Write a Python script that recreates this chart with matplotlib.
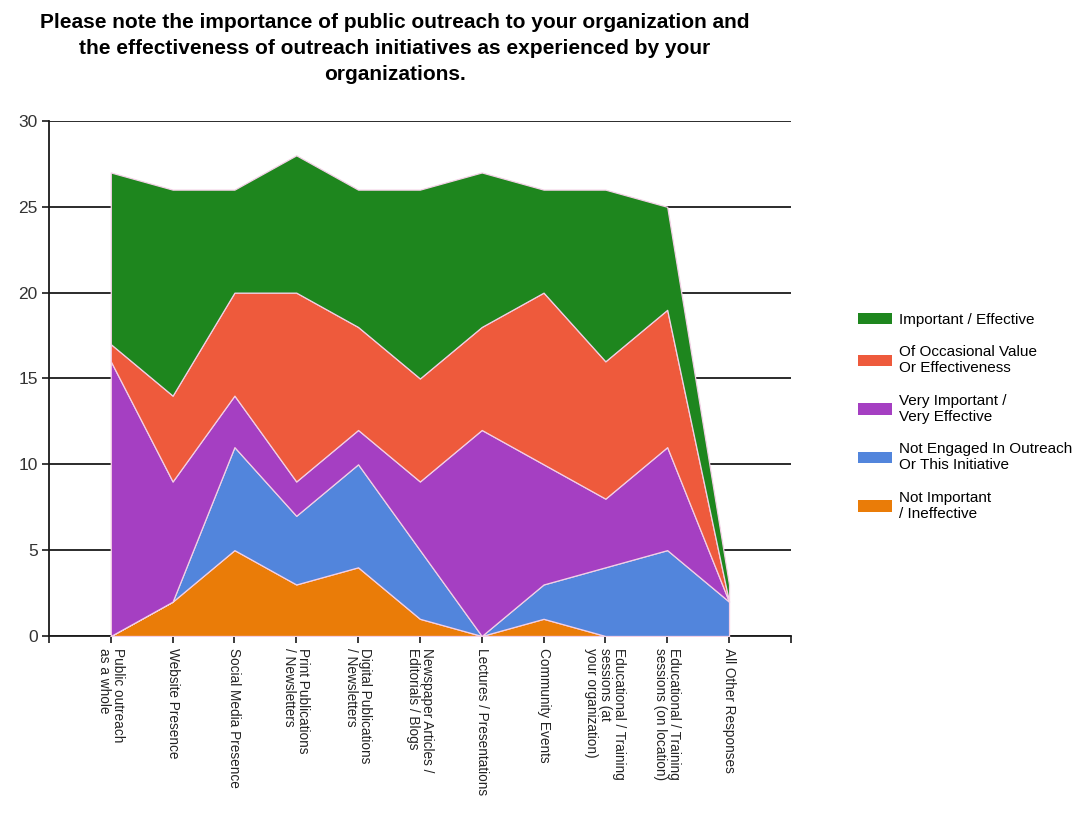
import numpy as np
import matplotlib.pyplot as plt
from matplotlib.patches import Patch

plt.rcParams['font.family'] = ['Liberation Sans', 'DejaVu Sans']

categories = [
    "Public outreach\nas a whole",
    "Website Presence",
    "Social Media Presence",
    "Print Publications\n/ Newsletters",
    "Digital Publications\n/ Newsletters",
    "Newspaper Articles /\nEditorials / Blogs",
    "Lectures / Presentations",
    "Community Events",
    "Educational / Training\nsessions (at\nyour organization)",
    "Educational / Training\nsessions (on location)",
    "All Other Responses",
]

# response counts per category, stacked bottom to top
not_important = [0, 2, 5, 3, 4, 1, 0, 1, 0, 0, 0]
not_engaged = [0, 0, 6, 4, 6, 4, 0, 2, 4, 5, 2]
very_important = [16, 7, 3, 2, 2, 4, 12, 7, 4, 6, 0]
occasional = [1, 5, 6, 11, 6, 6, 6, 10, 8, 8, 0]
important = [10, 12, 6, 8, 8, 11, 9, 6, 10, 6, 1]

series_labels = [
    "Not Important\n/ Ineffective",
    "Not Engaged In Outreach\nOr This Initiative",
    "Very Important /\nVery Effective",
    "Of Occasional Value\nOr Effectiveness",
    "Important / Effective",
]
colors = ['#ea7c08', '#5285dc', '#a53fc2', '#ee5a3c', '#1e861e']

fig = plt.figure(figsize=(10.76, 8.14), dpi=100)
ax = fig.add_axes([0.0455, 0.2187, 0.6895, 0.6327])

x = np.arange(1, len(categories) + 1)
ax.stackplot(x, not_important, not_engaged, very_important, occasional, important,
             colors=colors, edgecolor='#f3d0e6', linewidth=0.9, zorder=3)

ax.set_xlim(0, len(categories) + 1)
ax.set_ylim(0, 30)
ax.set_yticks(range(0, 31, 5))
ax.set_xticks(range(0, len(categories) + 2))
ax.set_xticklabels([''] + categories + [''], rotation=-90, fontsize=9.8,
                   color='#222222', linespacing=1.0, multialignment='left')
ax.yaxis.grid(True, color='#1a1a1a', linewidth=1.3, zorder=1)
ax.set_axisbelow(True)
ax.tick_params(axis='both', direction='out', length=5, width=1.2, color='#1a1a1a')
ax.tick_params(axis='y', labelsize=12.5, labelcolor='#333333', pad=3)
ax.tick_params(axis='x', pad=4)
for side in ['top', 'right']:
    ax.spines[side].set_visible(False)
for side in ['left', 'bottom']:
    ax.spines[side].set_color('#1a1a1a')
    ax.spines[side].set_linewidth(1.3)

handles = [Patch(facecolor=c) for c in colors[::-1]]
fig.legend(handles, series_labels[::-1], loc='center left',
           bbox_to_anchor=(0.792, 0.488), frameon=False,
           handlelength=2.2, handleheight=0.8, labelspacing=1.2,
           handletextpad=0.45, borderaxespad=0, prop={'size': 11})

fig.text(0.367, 0.984,
         "Please note the importance of public outreach to your organization and\n"
         "the effectiveness of outreach initiatives as experienced by your\n"
         "organizations.",
         ha='center', va='top', fontsize=15, fontweight='bold', linespacing=1.45)

fig.savefig('out.png', dpi=100)
